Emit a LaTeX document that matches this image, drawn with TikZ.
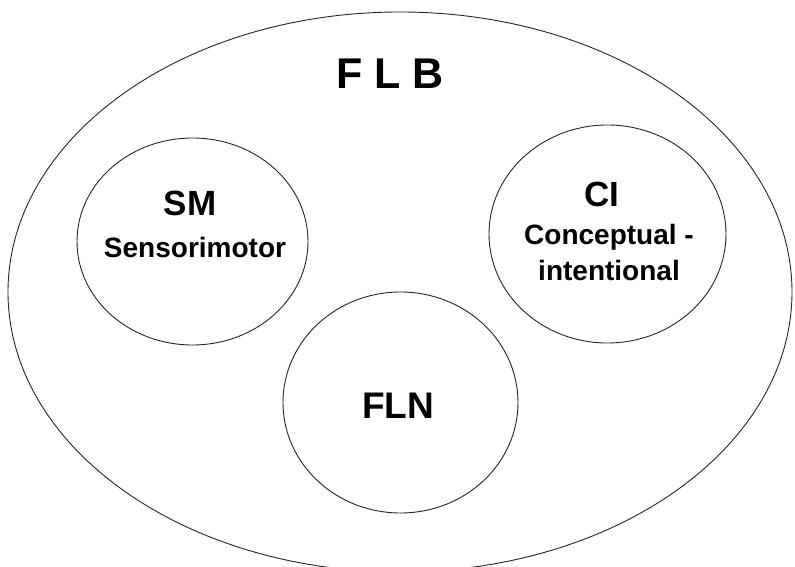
\documentclass[tikz,border=0pt]{standalone}
\usepackage{fontspec}
\setmainfont{Liberation Sans}
\usetikzlibrary{shapes.geometric}

\begin{document}
\def\bigfont{\fontsize{43}{50}\selectfont\bfseries}
\def\tagfont{\fontsize{35}{42}\selectfont\bfseries}
\def\subfont{\fontsize{28}{34}\selectfont\bfseries}

\begin{tikzpicture}[
    x=1pt,y=1pt,
    faculty/.style={ellipse,draw=black!85,line width=0.9pt,inner sep=0pt},
    tag/.style={anchor=base,inner sep=0pt,font=\tagfont},
    sub/.style={anchor=base,inner sep=0pt,font=\subfont},
]
\useasboundingbox (0,0) rectangle (795,567);
\clip (0,0) rectangle (795,567);
\fill[white] (0,0) rectangle (795,567);

% the whole language faculty
\node[faculty,minimum width=784,minimum height=560] (flb) at (400,275) {};
\path (390,478) node[anchor=base,inner sep=0pt,font=\bigfont] (flbtag) {F L B};

% the three parts
\node[faculty,minimum width=231,minimum height=207] (sm) at (192.5,325.5) {};
\node[faculty,minimum width=237,minimum height=218] (ci) at (607.5,333) {};
\node[faculty,minimum width=235,minimum height=221] (fln) at (400.5,164.5) {};

\path (190,351) node[tag] (smtag) {SM}
      (195,309) node[sub] (smtext) {Sensorimotor};
\path (602,360) node[tag] (citag) {CI}
      (609,322) node[sub] (citext) {Conceptual -}
      (609,286) node[sub] (citext2) {intentional};
\path (398,148) node[tag,font=\fontsize{37}{44}\selectfont\bfseries] (flntag) {FLN};

\end{tikzpicture}
\end{document}
